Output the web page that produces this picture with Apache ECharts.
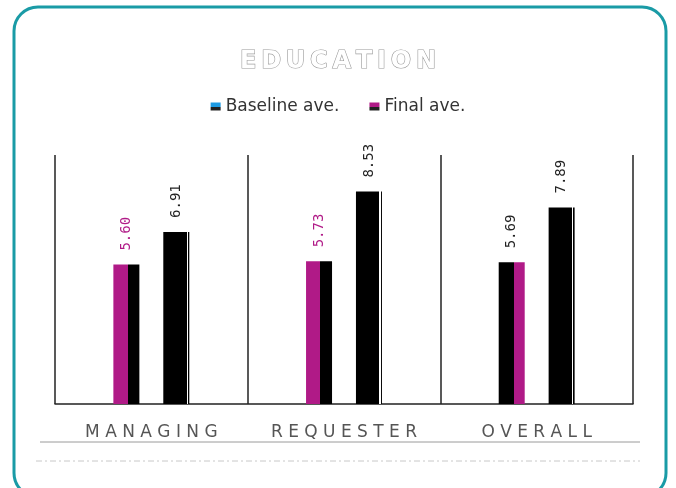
<!DOCTYPE html>
<html>
<head>
<meta charset="utf-8">
<script src="https://cdn.jsdelivr.net/npm/echarts@6/dist/echarts.min.js"></script>
<style>
  html, body { margin: 0; padding: 0; background: #ffffff; }
  #chart { width: 676px; height: 488px; }
</style>
</head>
<body>
<div id="chart"></div>
<script>
// Education survey: baseline vs final averages per group
const categories = ['MANAGING', 'REQUESTER', 'OVERALL'];
const baselineAve = [5.60, 5.73, 5.69];
const finalAve = [6.91, 8.53, 7.89];
const seriesNames = ['Baseline ave.', 'Final ave.'];

const MAGENTA = '#b01a87';
const BLUE = '#1e9be3';
const TEAL = '#1a9ba6';

// hard-stop two-tone fill for a bar
function split(c1, c2, at) {
  return {
    type: 'linear', x: 0, y: 0, x2: 1, y2: 0,
    colorStops: [
      { offset: 0, color: c1 }, { offset: at, color: c1 },
      { offset: at, color: c2 }, { offset: 1, color: c2 }
    ]
  };
}
function legendIcon(top) {
  return {
    type: 'linear', x: 0, y: 0, x2: 0, y2: 1,
    colorStops: [
      { offset: 0, color: top }, { offset: 0.55, color: top },
      { offset: 0.55, color: '#222' }, { offset: 1, color: '#222' }
    ]
  };
}
const finalFill = {
  type: 'linear', x: 0, y: 0, x2: 1, y2: 0,
  colorStops: [
    { offset: 0, color: '#000' }, { offset: 0.9, color: '#000' },
    { offset: 0.9, color: '#fff' }, { offset: 0.95, color: '#fff' },
    { offset: 0.95, color: '#000' }, { offset: 1, color: '#000' }
  ]
};

const baselineFills = [split(MAGENTA, '#000', 0.55), split(MAGENTA, '#000', 0.55), split('#000', MAGENTA, 0.6)];
const baselineLabelColors = [MAGENTA, MAGENTA, '#222'];

const chart = echarts.init(document.getElementById('chart'), null, { renderer: 'canvas' });

chart.setOption({
  animation: false,
  backgroundColor: '#ffffff',
  title: {
    text: 'E\u2009D\u2009U\u2009C\u2009A\u2009T\u2009I\u2009O\u2009N',
    left: 'center',
    top: 45,
    textStyle: {
      fontFamily: 'DejaVu Sans',
      fontSize: 24,
      fontWeight: 'bold',
      color: '#ffffff',
      textBorderColor: '#9a9a9a',
      textBorderWidth: 1.2
    }
  },
  legend: {
    top: 93,
    left: 'center',
    itemWidth: 10,
    itemHeight: 8,
    itemGap: 30,
    icon: 'rect',
    textStyle: {
      fontFamily: 'DejaVu Sans',
      fontSize: 17,
      color: '#333'
    },
    data: seriesNames
  },
  grid: { left: 55, right: 43, top: 155, bottom: 84 },
  xAxis: {
    type: 'category',
    data: categories,
    axisLine: { lineStyle: { color: '#222', width: 1.5 } },
    axisTick: { show: false },
    splitLine: { show: true, lineStyle: { color: '#222', width: 1.5 } },
    axisLabel: {
      margin: 20,
      fontFamily: 'DejaVu Sans',
      fontSize: 17,
      color: '#555',
      formatter: v => v.split('').join(' ')
    }
  },
  yAxis: {
    type: 'value',
    min: 0,
    max: 10,
    axisLine: { show: false },
    axisTick: { show: false },
    axisLabel: { show: false },
    splitLine: { show: false }
  },
  series: [
    {
      name: seriesNames[0],
      type: 'bar',
      barWidth: 26,
      barGap: '92%',
      itemStyle: { color: legendIcon(BLUE) },
      label: {
        show: true,
        position: 'top',
        distance: 14,
        rotate: 90,
        align: 'left',
        verticalAlign: 'middle',
        fontFamily: 'DejaVu Sans Mono',
        fontSize: 14,
        formatter: p => p.value.toFixed(2)
      },
      data: baselineAve.map((v, i) => ({
        value: v,
        itemStyle: { color: baselineFills[i] },
        label: { color: baselineLabelColors[i] }
      }))
    },
    {
      name: seriesNames[1],
      type: 'bar',
      barWidth: 26,
      itemStyle: { color: legendIcon(MAGENTA) },
      label: {
        show: true,
        position: 'top',
        distance: 14,
        rotate: 90,
        align: 'left',
        verticalAlign: 'middle',
        fontFamily: 'DejaVu Sans Mono',
        fontSize: 14,
        color: '#222',
        formatter: p => p.value.toFixed(2)
      },
      data: finalAve.map(v => ({ value: v, itemStyle: { color: finalFill } }))
    }
  ],
  graphic: [
    {
      type: 'rect',
      shape: { x: 14, y: 7, width: 652, height: 490, r: 24 },
      style: { fill: 'none', stroke: TEAL, lineWidth: 3 },
      silent: true
    },
    {
      type: 'line',
      shape: { x1: 40, y1: 442, x2: 640, y2: 442 },
      style: { stroke: '#9a9a9a', lineWidth: 1 },
      silent: true
    },
    {
      type: 'line',
      shape: { x1: 36, y1: 461, x2: 640, y2: 461 },
      style: { stroke: '#c8c8c8', lineWidth: 1, lineDash: [6, 3, 2, 3] },
      silent: true
    }
  ]
});
</script>
</body>
</html>
